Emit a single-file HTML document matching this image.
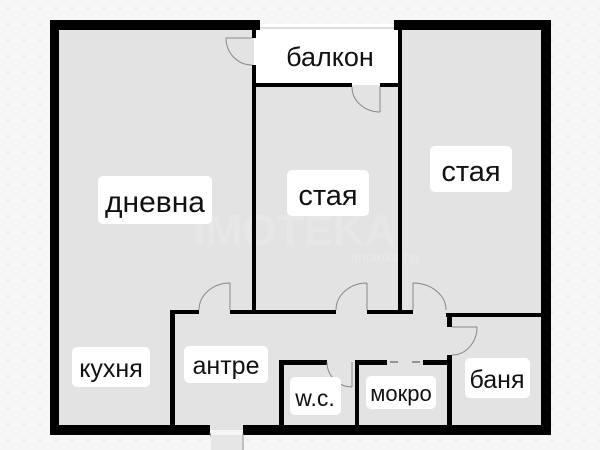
<!DOCTYPE html>
<html><head><meta charset="utf-8"><style>
html,body{margin:0;padding:0;background:#f5f5f5;}
svg{display:block}
text{font-family:"Liberation Sans",sans-serif;fill:#111;}
</style></head><body>
<svg width="600" height="450" viewBox="0 0 600 450" xmlns="http://www.w3.org/2000/svg">
<defs><pattern id="d" width="16" height="16" patternUnits="userSpaceOnUse"><circle cx="8" cy="8" r="0.8" fill="#cfcfcf"/></pattern></defs>
<rect width="600" height="450" fill="#f6f6f6"/>
<rect width="600" height="450" fill="url(#d)"/>
<rect x="54" y="24" width="492" height="406" fill="#e3e3e3"/>
<rect x="254" y="24" width="146" height="61" fill="#fff"/>
<line x1="254" y1="28" x2="398" y2="28" stroke="#bbb" stroke-width="1"/>
<text x="295" y="245" font-size="44" font-weight="bold" text-anchor="middle" style="fill:#e7e7e7">IMOTEKA</text>
<text x="385" y="262" font-size="14" text-anchor="middle" style="fill:#e9e9e9">imoteka.bg</text>
<g fill="#000">
<rect x="50" y="20" width="210" height="10"/>
<rect x="394" y="20" width="157" height="10"/>
<rect x="50" y="20" width="9" height="415"/>
<rect x="541" y="20" width="10" height="415"/>
<rect x="50" y="425" width="160" height="10"/>
<rect x="243" y="425" width="308" height="10"/>
<rect x="252" y="20" width="4" height="18"/>
<rect x="252" y="65" width="4" height="248"/>
<rect x="398" y="20" width="4" height="293"/>
<rect x="252" y="83" width="100" height="4"/>
<rect x="380" y="83" width="22" height="4"/>
<rect x="170" y="310" width="29" height="4"/>
<rect x="230" y="310" width="106" height="4"/>
<rect x="367" y="310" width="46" height="4"/>
<rect x="446" y="313" width="97" height="4"/>
<rect x="170" y="310" width="5" height="120"/>
<rect x="447" y="313" width="5" height="14"/>
<rect x="447" y="355" width="5" height="75"/>
<rect x="279" y="360" width="48" height="5"/>
<rect x="279" y="360" width="5" height="70"/>
<rect x="355" y="360" width="32" height="5"/>
<rect x="423" y="360" width="28" height="5"/>
<rect x="355" y="360" width="4" height="70"/>
</g>
<g fill="none" stroke="#888" stroke-width="1">
<path d="M226 38 H252 M226 38 A26 27 0 0 0 252 65"/>
<path d="M380 87 V112 M352 87 A28 25 0 0 0 380 112"/>
<path d="M230 310 V283 M199 310 A31 27 0 0 1 230 283"/>
<path d="M367 310 V283 M336 310 A31 27 0 0 1 367 283"/>
<path d="M413 310 V283 M413 283 A33 27 0 0 1 446 310"/>
<path d="M452 327 H477 M477 327 A25 28 0 0 1 452 355"/>
<path d="M352 362 V387 M327 362 A25 25 0 0 0 352 387"/>
<path d="M243 433 V450 M210 433 A33 33 0 0 0 220 450"/>
<path d="M390 362 H398 M412 362 H420" stroke="#444"/>
</g>
<rect x="211" y="435" width="31" height="15" fill="#e6e6e6"/>
<g fill="#fff">
<rect x="98" y="176" width="114" height="48" rx="5"/>
<rect x="287" y="170" width="82" height="46" rx="5"/>
<rect x="430" y="146" width="82" height="46" rx="5"/>
<rect x="72" y="347" width="78" height="40" rx="5"/>
<rect x="184" y="346" width="84" height="37" rx="5"/>
<rect x="290" y="377" width="51" height="38" rx="5"/>
<rect x="366" y="376" width="70" height="33" rx="5"/>
<rect x="465" y="358" width="65" height="40" rx="5"/>
</g>
<text x="155" y="212" font-size="30" text-anchor="middle">дневна</text>
<text x="328" y="205" font-size="29" text-anchor="middle">стая</text>
<text x="471" y="181" font-size="29" text-anchor="middle">стая</text>
<text x="330" y="66" font-size="27" text-anchor="middle">балкон</text>
<text x="111" y="377" font-size="25" text-anchor="middle">кухня</text>
<text x="226" y="374" font-size="25" text-anchor="middle">антре</text>
<text x="315" y="406" font-size="23" text-anchor="middle">w.c.</text>
<text x="401" y="401" font-size="22" text-anchor="middle">мокро</text>
<text x="497" y="388" font-size="25" text-anchor="middle">баня</text>
</svg>
</body></html>
